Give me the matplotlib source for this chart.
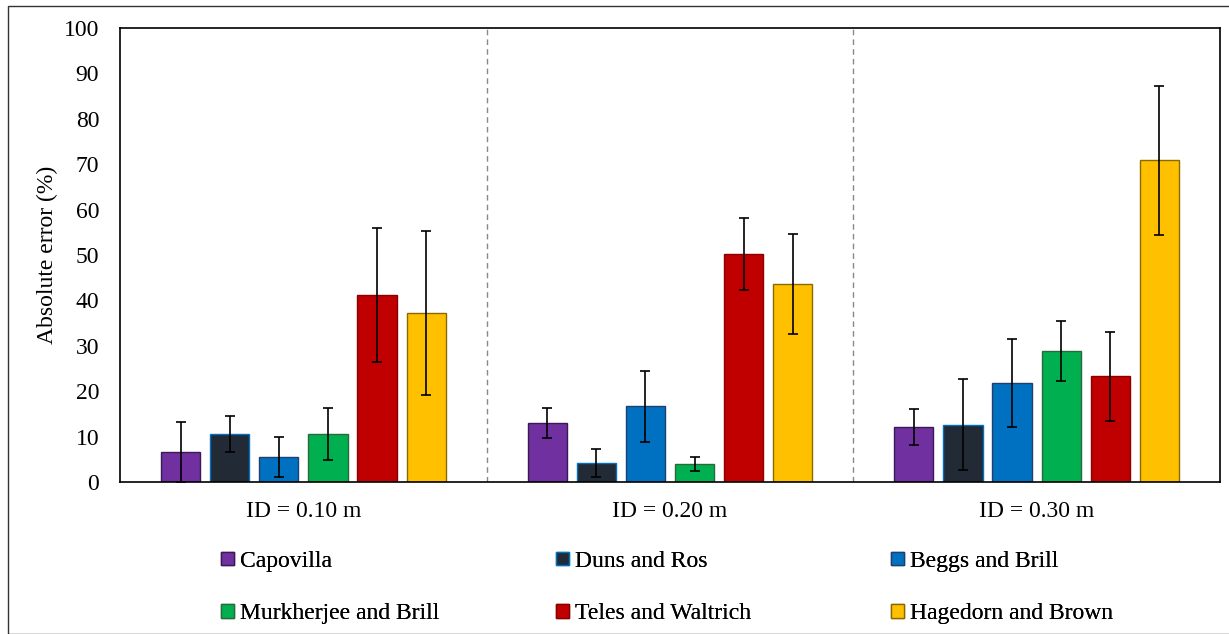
import matplotlib
matplotlib.use("Agg")
import matplotlib.pyplot as plt
import numpy as np
from matplotlib.patches import Rectangle

plt.rcParams['font.family'] = ['Liberation Serif', 'DejaVu Serif']

groups = ["ID = 0.10 m", "ID = 0.20 m", "ID = 0.30 m"]
series = ["Capovilla", "Duns and Ros", "Beggs and Brill",
          "Murkherjee and Brill", "Teles and Waltrich", "Hagedorn and Brown"]
capovilla = [6.6, 13.0, 12.1]
duns_ros = [10.6, 4.2, 12.6]
beggs_brill = [5.5, 16.7, 21.8]
murkherjee = [10.6, 4.0, 28.9]
teles = [41.2, 50.2, 23.3]
hagedorn = [37.2, 43.6, 70.9]
err_capovilla = [6.6, 3.3, 3.9]
err_duns_ros = [4.0, 3.0, 10.0]
err_beggs_brill = [4.5, 7.8, 9.7]
err_murkherjee = [5.8, 1.5, 6.6]
err_teles = [14.8, 8.0, 9.8]
err_hagedorn = [18.0, 11.0, 16.4]

values = [capovilla, duns_ros, beggs_brill, murkherjee, teles, hagedorn]
errors = [err_capovilla, err_duns_ros, err_beggs_brill, err_murkherjee, err_teles, err_hagedorn]
colors = ["#7030A0", "#222A35", "#0070C0", "#00B050", "#C00000", "#FFC000"]
edges = ["#3a1a55", "#0070C0", "#1f3f70", "#2a6a3a", "#8a0000", "#8a6a00"]

FS = 17

fig = plt.figure(figsize=(12.29, 6.34), dpi=100)
ax = fig.add_axes([120/1229, 1 - 482/634, 1100/1229, 454/634])

x = np.arange(len(groups))
step = 0.134
width = 0.107
handles = []
for i, (vals, errs, c, e, name) in enumerate(zip(values, errors, colors, edges, series)):
    pos = x + (i - 2.5) * step
    b = ax.bar(pos, vals, width, color=c, edgecolor=e, linewidth=1.0, label=name, zorder=2)
    ax.errorbar(pos, vals, yerr=errs, fmt='none', ecolor='black', elinewidth=1.2,
                capsize=3.5, capthick=1.2, zorder=3)
    handles.append(b)

ax.set_xlim(-0.5, 2.5)
ax.set_ylim(0, 100)
ax.set_yticks(np.arange(0, 101, 10))
ax.set_xticks(x)
ax.set_xticklabels(groups)
ax.tick_params(axis='both', length=0, labelsize=FS)
ax.tick_params(axis='x', pad=14)
ax.tick_params(axis='y', pad=15)
for xv in [0.5, 1.5]:
    ax.axvline(xv, color='#888888', linestyle=(0, (4, 3)), linewidth=1.0, zorder=1)
for s in ax.spines.values():
    s.set_linewidth(1.2)
    s.set_color('black')
ax.set_ylabel("Absolute error (%)", fontsize=FS, labelpad=4)

# legend: three columns placed at the reference positions
col_x = [221, 556, 891]
for k in range(3):
    idx = [k, k + 3]
    leg = fig.legend(handles=[handles[j] for j in idx], labels=[series[j] for j in idx],
                     loc='upper left', bbox_to_anchor=(col_x[k]/1229, 1 - 551/634),
                     frameon=False, fontsize=FS, handlelength=0.55, handleheight=0.5,
                     handletextpad=0.25, labelspacing=1.33, borderpad=0, borderaxespad=0)
    fig.add_artist(leg)

fig.patches.append(Rectangle((8/1229, 0), 1.0, 1 - 6/634, transform=fig.transFigure,
                             fill=False, edgecolor='#333333', linewidth=1.0))

fig.savefig("out.png", dpi=100)
